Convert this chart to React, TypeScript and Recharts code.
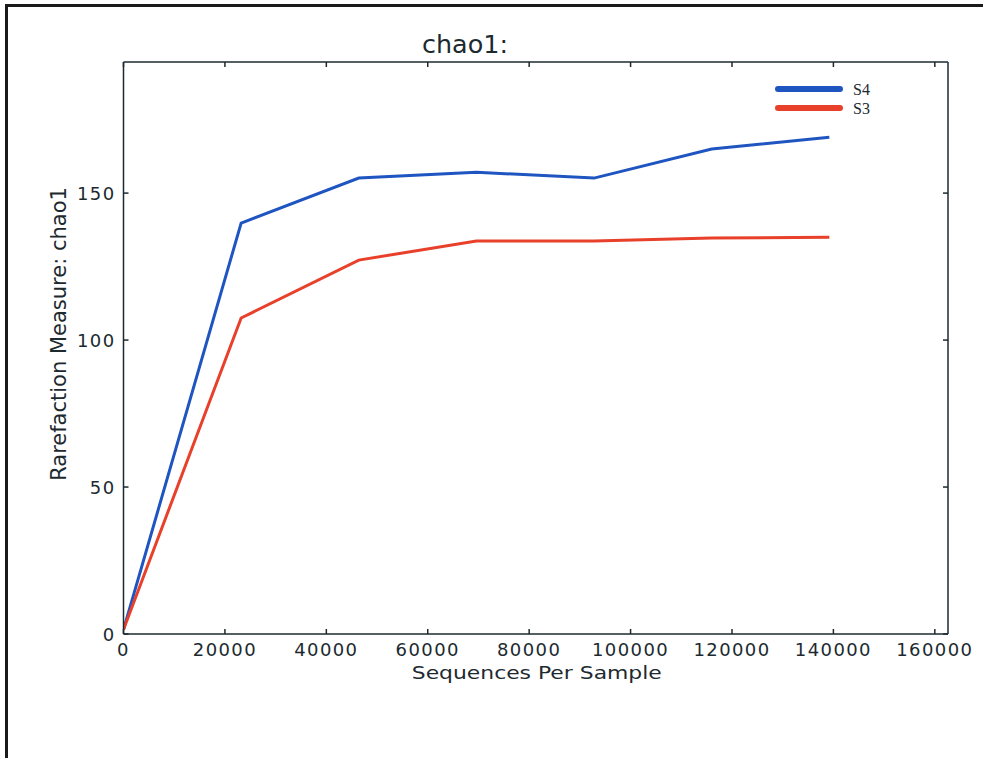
import React from 'react';
import { LineChart, Line, XAxis, YAxis, Legend } from 'recharts';

const seqPerSample = [0, 23200, 46400, 69600, 92800, 116000, 139200];
const s4Values = [1.5, 139.8, 155.1, 157.1, 155.1, 165.0, 169.0];
const s3Values = [1.5, 107.5, 127.2, 133.7, 133.7, 134.7, 135.0];
const xTicks = [0, 20000, 40000, 60000, 80000, 100000, 120000, 140000, 160000];
const yTicks = [0, 50, 100, 150];
const legendOrder = ['S4', 'S3'];

const data = seqPerSample.map((seq, i) => ({ seq, S4: s4Values[i], S3: s3Values[i] }));

const INK = '#1c2a30';
const BLUE = '#1f55c0';
const RED = '#e8402a';
const FONT = '"DejaVu Sans", sans-serif';

const BottomTick = ({ x, y, payload }: any) => (
  <g>
    <line x1={x} x2={x} y1={y} y2={y - 5} stroke={INK} strokeWidth={1.5} />
    <text x={x} y={y + 22} textAnchor="middle" fontFamily={FONT} fontSize={18} letterSpacing={1.4} fill={INK}>
      {payload.value}
    </text>
  </g>
);

const LeftTick = ({ x, y, payload }: any) => (
  <g>
    <line x1={x} x2={x + 5} y1={y} y2={y} stroke={INK} strokeWidth={1.5} />
    <text x={x - 8} y={y} dy={6.5} textAnchor="end" fontFamily={FONT} fontSize={18} letterSpacing={1.4} fill={INK}>
      {payload.value}
    </text>
  </g>
);

const TopTick = ({ x, y }: any) => <line x1={x} x2={x} y1={y} y2={y + 5} stroke={INK} strokeWidth={1.5} />;
const RightTick = ({ x, y }: any) => <line x1={x} x2={x - 5} y1={y} y2={y} stroke={INK} strokeWidth={1.5} />;

const XLabel = ({ viewBox }: any) => (
  <text
    x={viewBox.x + viewBox.width / 2 + 1}
    y={viewBox.y + 45}
    textAnchor="middle"
    fontFamily={FONT}
    fontSize={18}
    textLength={250}
    lengthAdjust="spacingAndGlyphs"
    fill={INK}
  >
    Sequences Per Sample
  </text>
);

const YLabel = ({ viewBox }: any) => {
  const cx = viewBox.x + viewBox.width - 58;
  const cy = 334;
  return (
    <text
      x={cx}
      y={cy}
      transform={`rotate(-90 ${cx} ${cy})`}
      textAnchor="middle"
      fontFamily={FONT}
      fontSize={21}
      fill={INK}
    >
      Rarefaction Measure: chao1
    </text>
  );
};

const Title = ({ viewBox }: any) => (
  <text
    x={465}
    y={viewBox.y - 8}
    textAnchor="middle"
    fontFamily={FONT}
    fontSize={24}
    textLength={86}
    lengthAdjust="spacingAndGlyphs"
    fill={INK}
  >
    chao1:
  </text>
);

const LegendBox = ({ payload }: any) => {
  const items = legendOrder
    .map((name) => (payload || []).find((p: any) => p.value === name && p.type !== 'none' && p.color !== 'none'))
    .filter(Boolean);
  return (
    <svg width={120} height={45}>
      {items.map((entry: any, i: number) => (
        <g key={entry.value}>
          <line x1={6} x2={68} y1={13 + i * 19} y2={13 + i * 19} stroke={entry.color} strokeWidth={6} strokeLinecap="round" />
          <text x={81} y={19 + i * 19} fontFamily='"Liberation Serif", serif' fontSize={16} fill={INK}>
            {entry.value}
          </text>
        </g>
      ))}
    </svg>
  );
};

export default function App() {
  return (
    <div style={{ position: 'absolute', left: 0, top: 0, width: 983, height: 758, background: '#fff', overflow: 'hidden' }}>
      <div
        style={{
          position: 'absolute',
          left: 5,
          top: 4,
          width: 990,
          height: 770,
          borderLeft: '3px solid #1a1a1a',
          borderTop: '3px solid #1a1a1a',
        }}
      />
      <LineChart width={983} height={758} data={data} margin={{ top: 61, right: 34, bottom: 64, left: 23.5 }}>
        <XAxis
          dataKey="seq"
          type="number"
          domain={[0, 162600]}
          ticks={xTicks}
          allowDataOverflow
          height={60}
          tickSize={0}
          tickMargin={0}
          tickLine={false}
          axisLine={{ stroke: INK, strokeWidth: 1.5 }}
          tick={<BottomTick />}
          interval={0}
          label={<XLabel />}
        />
        <XAxis
          xAxisId="top"
          orientation="top"
          dataKey="seq"
          type="number"
          domain={[0, 162600]}
          ticks={xTicks}
          allowDataOverflow
          height={1}
          tickSize={0}
          tickMargin={0}
          tickLine={false}
          axisLine={{ stroke: INK, strokeWidth: 1.5 }}
          tick={<TopTick />}
          interval={0}
          label={<Title />}
        />
        <YAxis
          type="number"
          domain={[0, 194.6]}
          ticks={yTicks}
          allowDataOverflow
          width={100}
          tickSize={0}
          tickMargin={0}
          tickLine={false}
          axisLine={{ stroke: INK, strokeWidth: 1.5 }}
          tick={<LeftTick />}
          interval={0}
          label={<YLabel />}
        />
        <YAxis
          yAxisId="right"
          orientation="right"
          type="number"
          domain={[0, 194.6]}
          ticks={yTicks}
          allowDataOverflow
          width={1}
          tickSize={0}
          tickMargin={0}
          tickLine={false}
          axisLine={{ stroke: INK, strokeWidth: 1.5 }}
          tick={<RightTick />}
          interval={0}
        />
        <Legend
          layout="vertical"
          align="center"
          verticalAlign="middle"
          content={<LegendBox />}
          wrapperStyle={{ left: 772, top: 76, width: 120, height: 45 }}
        />
        {/* invisible series so the frame axes (top/right) get drawn */}
        <Line
          xAxisId="top"
          yAxisId="right"
          dataKey="S4"
          stroke="none"
          dot={false}
          activeDot={false}
          legendType="none"
          isAnimationActive={false}
        />
        <Line dataKey="S4" name="S4" type="linear" stroke={BLUE} strokeWidth={3} dot={false} isAnimationActive={false} />
        <Line dataKey="S3" name="S3" type="linear" stroke={RED} strokeWidth={3} dot={false} isAnimationActive={false} />
      </LineChart>
    </div>
  );
}
